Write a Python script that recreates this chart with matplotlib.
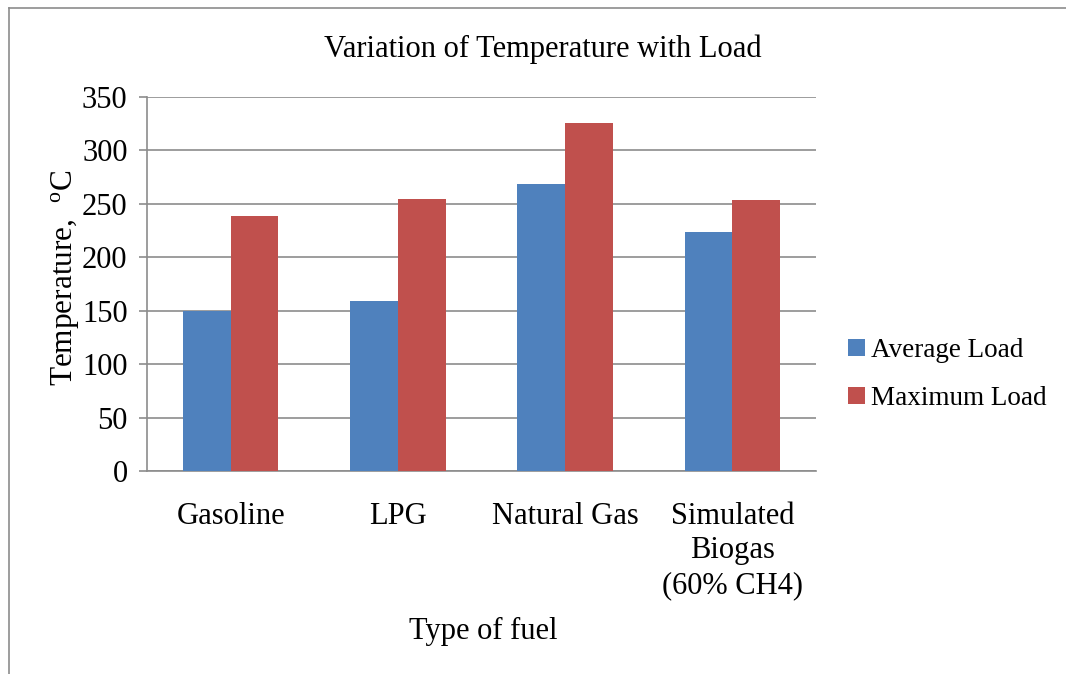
import numpy as np
import matplotlib
matplotlib.use("Agg")
import matplotlib.pyplot as plt
from matplotlib.lines import Line2D

# datos del grafico
categorias = ["Gasoline", "LPG", "Natural Gas", "Simulated\nBiogas\n(60% CH4)"]
carga_media = [150, 159, 269, 224]
carga_maxima = [239, 255, 326, 254]
series = ["Average Load", "Maximum Load"]
y_ticks = [0, 50, 100, 150, 200, 250, 300, 350]

plt.rcParams["font.family"] = ["Liberation Serif", "DejaVu Serif"]
plt.rcParams["mathtext.fontset"] = "custom"
plt.rcParams["mathtext.rm"] = "Liberation Serif"

azul = "#4f81bd"
rojo = "#c0504d"
gris = "#8c8c8c"

W, H = 1066, 674
fig = plt.figure(figsize=(W / 100, H / 100), dpi=100)
ax = fig.add_axes([147 / W, 1 - 471 / H, (816 - 147) / W, (471 - 97) / H])

x = np.arange(len(categorias))
ancho = 0.285
ax.bar(x - ancho / 2, carga_media, ancho, color=azul, label=series[0], zorder=3)
ax.bar(x + ancho / 2, carga_maxima, ancho, color=rojo, label=series[1], zorder=3)

ax.set_xlim(-0.5, len(categorias) - 0.5)
ax.set_ylim(0, 350)
ax.set_yticks(y_ticks)
ax.set_xticks(x)
ax.set_xticklabels(categorias, fontsize=22, linespacing=1.27)
ax.tick_params(axis="y", labelsize=22, length=6, color=gris, width=1.2, pad=8)
ax.tick_params(axis="x", length=0, pad=22)
ax.yaxis.grid(True, color=gris, linewidth=1.2, zorder=0)

for lado in ["top", "right"]:
  ax.spines[lado].set_visible(False)
for lado in ["left", "bottom"]:
  ax.spines[lado].set_color(gris)
  ax.spines[lado].set_linewidth(1.2)

# titulo y etiquetas
fig.text(543 / W, 1 - 49 / H, "Variation of Temperature with Load", fontsize=22,
         ha="center", va="center")
fig.text(483 / W, 1 - 631 / H, "Type of fuel", fontsize=22, ha="center", va="center")
ax.set_ylabel(r"Temperature,  $\mathregular{^{o}}$C", fontsize=22.5)
ax.yaxis.set_label_coords((65 - 147) / 669, (471 - 278) / 374)
ax.yaxis.label.set_va("center")

ax.legend(loc="center left", bbox_to_anchor=(1.012, 0.257), frameon=False,
          fontsize=19.5, handlelength=0.6, handleheight=0.6, handletextpad=0.25,
          labelspacing=0.85)

# marco exterior del grafico
fig.add_artist(Line2D([9 / W, 9 / W], [0, 1 - 8 / H], color=gris, lw=1.2))
fig.add_artist(Line2D([9 / W, 1], [1 - 8 / H, 1 - 8 / H], color=gris, lw=1.2))

fig.savefig("out.png", dpi=100)
